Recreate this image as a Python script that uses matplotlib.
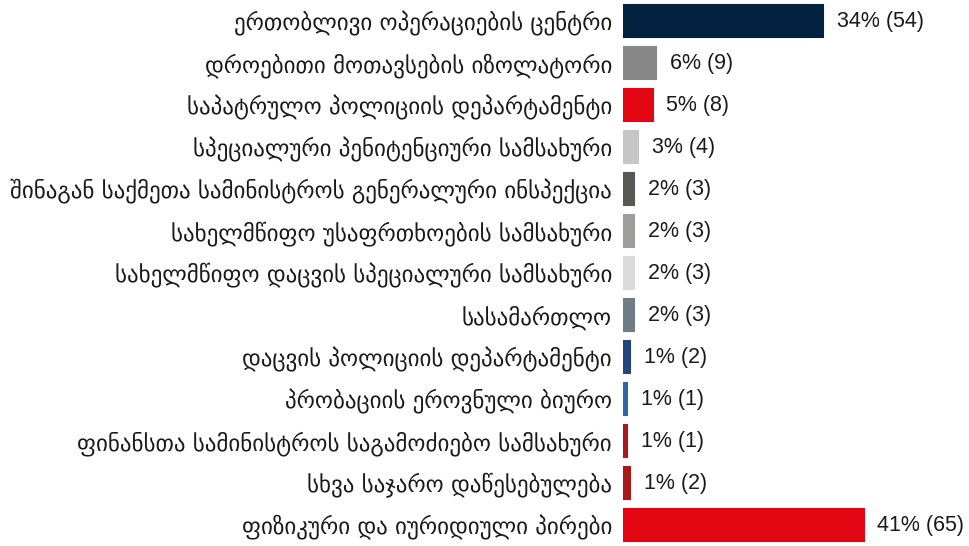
import matplotlib
matplotlib.use("Agg")
import matplotlib.pyplot as plt

categories = [
    "ერთობლივი ოპერაციების ცენტრი",
    "დროებითი მოთავსების იზოლატორი",
    "საპატრულო პოლიციის დეპარტამენტი",
    "სპეციალური პენიტენციური სამსახური",
    "შინაგან საქმეთა სამინისტროს გენერალური ინსპექცია",
    "სახელმწიფო უსაფრთხოების სამსახური",
    "სახელმწიფო დაცვის სპეციალური სამსახური",
    "სასამართლო",
    "დაცვის პოლიციის დეპარტამენტი",
    "პრობაციის ეროვნული ბიურო",
    "ფინანსთა სამინისტროს საგამოძიებო სამსახური",
    "სხვა საჯარო დაწესებულება",
    "ფიზიკური და იურიდიული პირები",
]
counts = [54, 9, 8, 4, 3, 3, 3, 3, 2, 1, 1, 2, 65]
percents = [34, 6, 5, 3, 2, 2, 2, 2, 1, 1, 1, 1, 41]
colors = ["#03223f", "#878787", "#e30613", "#c6c6c6", "#575756", "#9d9d9c",
          "#dadada", "#6f7b85", "#22467a", "#2f66a8", "#a8191b", "#a8191b", "#e30613"]

fig = plt.figure(figsize=(9.69, 5.46), dpi=100)
ax = fig.add_axes([623 / 969, 0, 346 / 969, 1])

y = list(range(len(categories)))
ax.barh(y, counts, height=0.74, color=colors, edgecolor=colors, linewidth=1.5)

for yi, c, p in zip(y, counts, percents):
    ax.annotate(f"{p}% ({c})", (c, yi), xytext=(10, 0), textcoords="offset points",
                va="center", ha="left", fontsize=15.5,
                family=["Liberation Sans", "DejaVu Sans"], color="#1a1a1a")

ax.set_xlim(0, 346 / 3.7)
ax.set_ylim(len(categories) - 0.5, -0.5)
ax.set_yticks(y)
ax.set_yticklabels(categories, fontsize=16.6, family=["DejaVu Sans Condensed", "DejaVu Sans"],
                   color="#1a1a1a")
ax.tick_params(axis="y", length=0, pad=8)
ax.set_xticks([])
for s in ax.spines.values():
    s.set_visible(False)

fig.savefig("out.png", dpi=100)
